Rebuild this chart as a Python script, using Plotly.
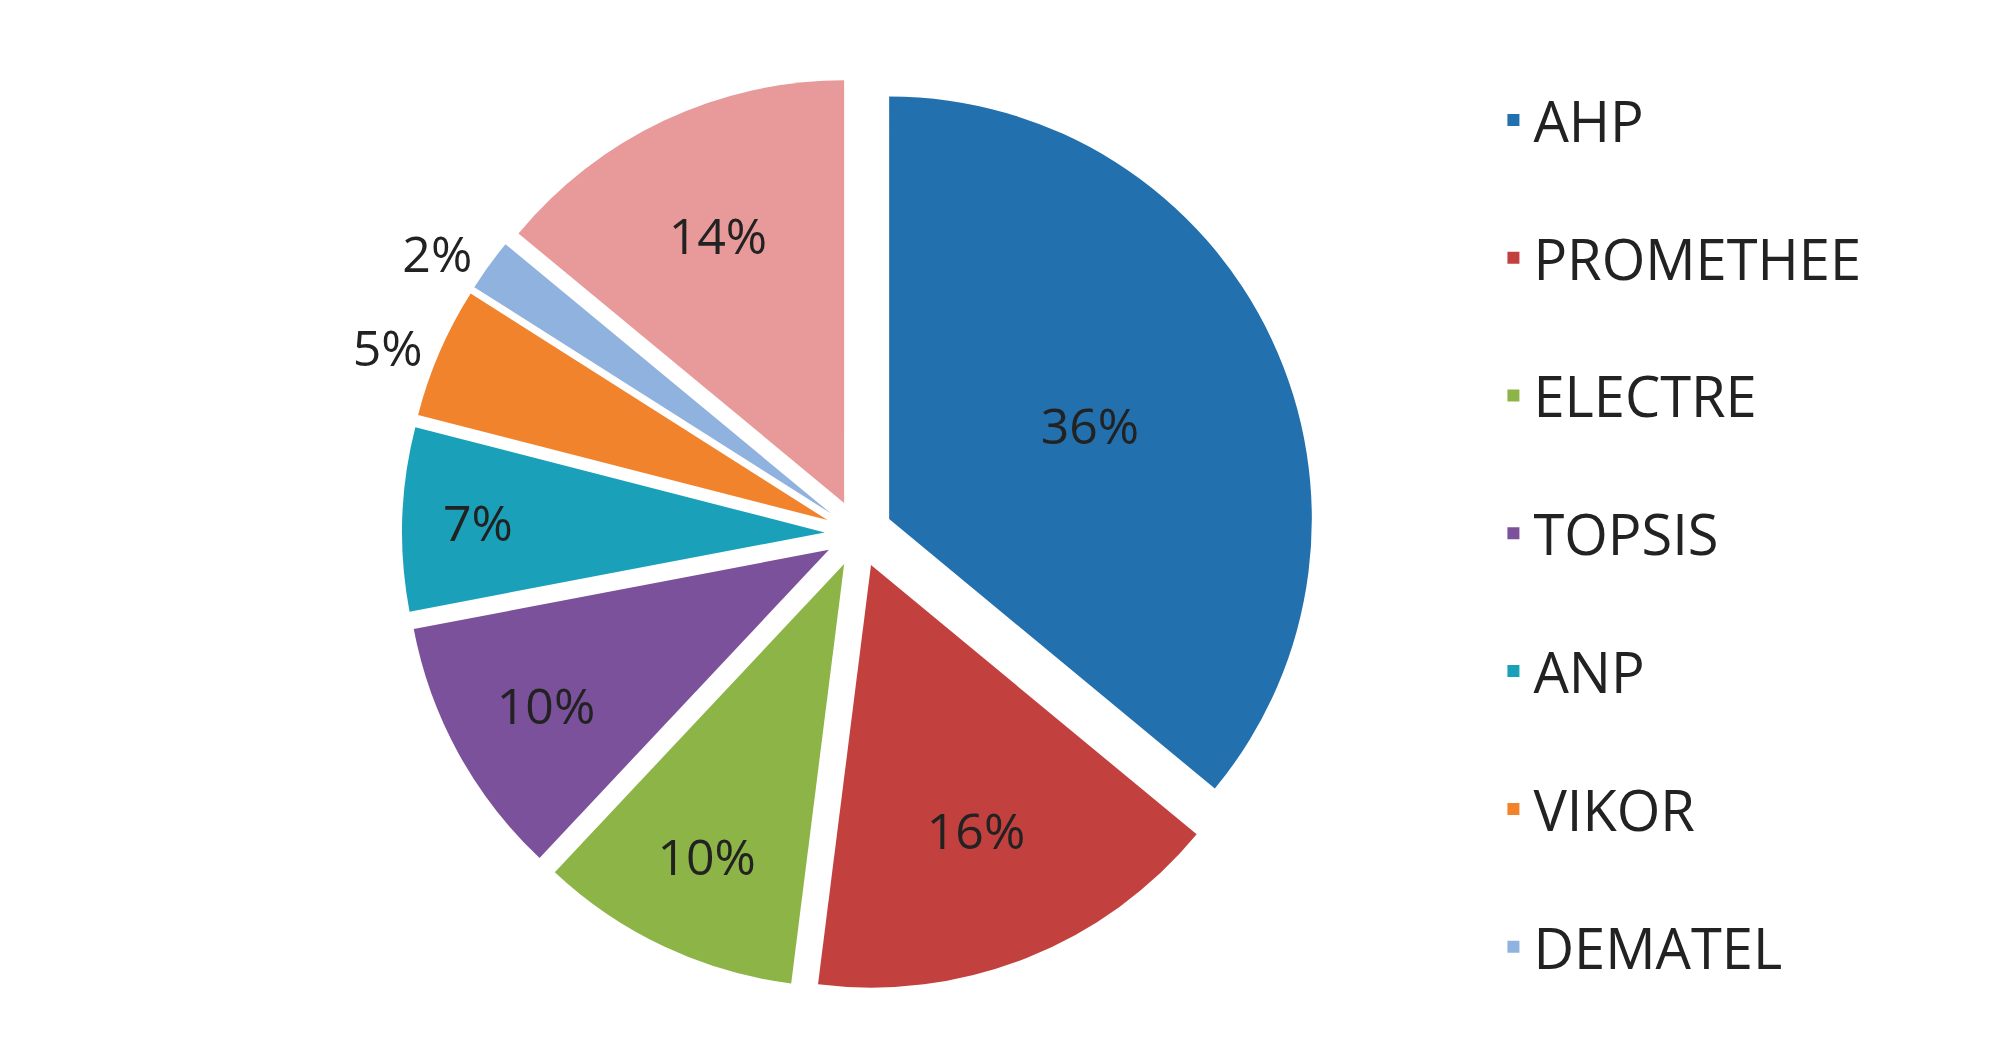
import plotly.graph_objects as go

labels = ["AHP", "PROMETHEE", "ELECTRE", "TOPSIS", "ANP", "VIKOR", "DEMATEL", "OTHER METHODS"]
values = [36, 16, 10, 10, 7, 5, 2, 14]
colors = ["#2370ae", "#c2403e", "#8db446", "#7b519b", "#1aa1b9", "#f1832c", "#8fb2de", "#e8999a"]
text_pos = ["inside", "inside", "inside", "inside", "inside", "outside", "outside", "inside"]

fig = go.Figure(go.Pie(
    labels=labels, values=values, sort=False, direction="clockwise", rotation=0,
    marker=dict(colors=colors, line=dict(color="white", width=0)),
    pull=[0.08] * len(values), showlegend=False,
    texttemplate="%{percent:.0%}", textposition=text_pos,
    textfont=dict(size=50, color="#222"), insidetextorientation="horizontal",
    domain=dict(x=[0, 0.7], y=[0, 1]),
))
for i, (lab, col) in enumerate(zip(labels, colors)):
    fig.add_trace(go.Scatter(x=[None], y=[None], mode="markers", name=lab,
                             legendgroup=f"g{i}",
                             marker=dict(symbol="square", size=34, color=col)))
fig.update_layout(
    width=2005, height=1052, paper_bgcolor="white", plot_bgcolor="white",
    font=dict(family="Open Sans"),
    margin=dict(l=20, r=10, t=10, b=10),
    xaxis=dict(visible=False), yaxis=dict(visible=False),
    legend=dict(x=0.725, y=1.0, yanchor="top", font=dict(size=56, color="#222"),
                tracegroupgap=62, itemsizing="constant"),
)
fig.write_html("out.html")
